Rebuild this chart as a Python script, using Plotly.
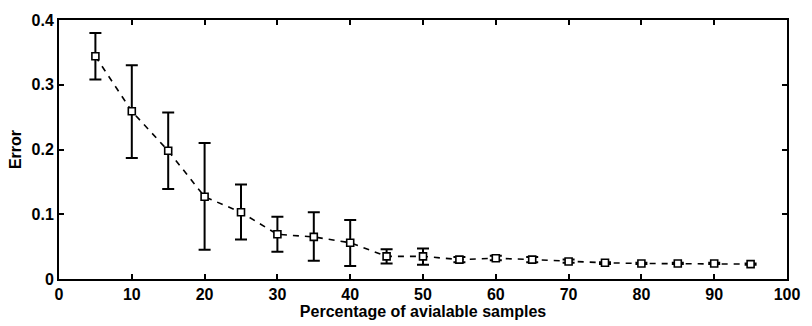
import plotly.graph_objects as go

x_pct = [5, 10, 15, 20, 25, 30, 35, 40, 45, 50, 55, 60, 65, 70, 75, 80, 85, 90, 95]
err_mean = [0.344, 0.259, 0.198, 0.127, 0.103, 0.069, 0.065, 0.056, 0.035, 0.035, 0.030,
            0.032, 0.030, 0.027, 0.025, 0.024, 0.024, 0.024, 0.023]
err_upper = [0.380, 0.330, 0.257, 0.210, 0.146, 0.096, 0.103, 0.091, 0.046, 0.047, 0.034,
             0.036, 0.034, 0.030, 0.026, 0.025, 0.025, 0.025, 0.024]
err_lower = [0.308, 0.187, 0.139, 0.045, 0.061, 0.042, 0.028, 0.020, 0.024, 0.022, 0.026,
             0.029, 0.026, 0.025, 0.023, 0.023, 0.023, 0.023, 0.022]
x_ticks = [0, 10, 20, 30, 40, 50, 60, 70, 80, 90, 100]
y_ticks = [0, 0.1, 0.2, 0.3, 0.4]
y_tick_labels = ["0", "0.1", "0.2", "0.3", "0.4"]

plus = [u - m for u, m in zip(err_upper, err_mean)]
minus = [m - l for m, l in zip(err_mean, err_lower)]

fig = go.Figure()
fig.add_trace(go.Scatter(
    x=x_pct, y=err_mean, mode="lines",
    line=dict(color="black", width=1.6, dash="6px,6px"),
    error_y=dict(type="data", array=plus, arrayminus=minus, symmetric=False,
                 color="black", thickness=2, width=6),
    showlegend=False,
))
fig.add_trace(go.Scatter(
    x=x_pct, y=err_mean, mode="markers",
    marker=dict(symbol="square", size=7, color="white", line=dict(width=1.6, color="black")),
    showlegend=False, hoverinfo="skip",
))

font_family = "Liberation Sans, Arial, sans-serif"
axis_common = dict(
    showgrid=False, zeroline=False, showline=True, mirror="ticks",
    linecolor="black", linewidth=2, ticks="inside", ticklen=5, tickwidth=1.5,
    tickcolor="black",
    tickfont=dict(family=font_family, size=16, color="black"),
)
fig.update_layout(
    width=812, height=326,
    margin=dict(l=59, r=15, t=15, b=45),
    paper_bgcolor="white", plot_bgcolor="white",
    xaxis=dict(range=[0, 100], tickvals=x_ticks,
               ticktext=[f"<b>{t}</b>" for t in x_ticks],
               title=dict(text="<b>Percentage of avialable samples</b>", standoff=0,
                          font=dict(family=font_family, size=16, color="black")),
               **axis_common),
    yaxis=dict(range=[0, 0.4], tickvals=y_ticks,
               ticktext=[f"<b>{t}</b>" for t in y_tick_labels],
               title=dict(text="<b>Error</b>", standoff=6,
                          font=dict(family=font_family, size=16, color="black")),
               **axis_common),
)
fig.write_html("out.html")
